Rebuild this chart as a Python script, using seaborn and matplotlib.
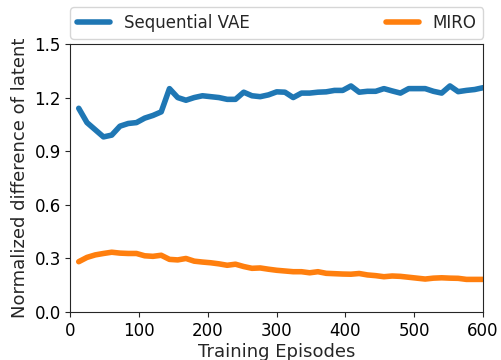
import numpy as np
import pandas as pd
import matplotlib
matplotlib.use("Agg")
import matplotlib.pyplot as plt
import seaborn as sns

episodes = list(range(12, 601, 12))

seq_vae = [1.14, 1.06, 1.02, 0.98, 0.99, 1.04, 1.055, 1.06, 1.085, 1.10,
           1.12, 1.25, 1.20, 1.185, 1.20, 1.21, 1.205, 1.20, 1.19, 1.19,
           1.23, 1.21, 1.205, 1.215, 1.232, 1.23, 1.20, 1.225, 1.225, 1.23,
           1.232, 1.24, 1.24, 1.265, 1.23, 1.235, 1.235, 1.25, 1.237, 1.225,
           1.25, 1.25, 1.25, 1.235, 1.225, 1.265, 1.233, 1.24, 1.245, 1.255]

miro = [0.282, 0.306, 0.32, 0.328, 0.335, 0.33, 0.328, 0.328, 0.315, 0.312,
        0.318, 0.295, 0.292, 0.30, 0.285, 0.28, 0.276, 0.27, 0.262, 0.268,
        0.255, 0.245, 0.247, 0.24, 0.234, 0.23, 0.226, 0.226, 0.22, 0.226,
        0.217, 0.215, 0.213, 0.212, 0.216, 0.208, 0.204, 0.198, 0.202, 0.20,
        0.195, 0.19, 0.185, 0.19, 0.192, 0.19, 0.189, 0.183, 0.183, 0.183]

series_names = ["Sequential VAE", "MIRO"]
colors = ["#1f77b4", "#ff7f0e"]

df = pd.DataFrame({
    "episode": episodes * 2,
    "value": seq_vae + miro,
    "method": [series_names[0]] * len(episodes) + [series_names[1]] * len(episodes),
})

sns.set_style("ticks")

fig = plt.figure(figsize=(5.02, 3.6), dpi=100)
ax = fig.add_axes([0.1404, 0.133, 0.8216, 0.745])

sns.lineplot(data=df, x="episode", y="value", hue="method",
             palette=colors, linewidth=4, ax=ax)

ax.set_xlim(0, 600)
ax.set_ylim(0.0, 1.5)
ax.set_xticks([0, 100, 200, 300, 400, 500, 600])
ax.set_yticks([0.0, 0.3, 0.6, 0.9, 1.2, 1.5])
ax.tick_params(labelsize=12, length=3.5, width=0.8, labelcolor="black")
ax.set_xlabel("Training Episodes", fontsize=13, labelpad=2)
ax.set_ylabel("Normalized difference of latent", fontsize=13)

for s in ax.spines.values():
    s.set_visible(True)
    s.set_linewidth(0.8)

handles, labels = ax.get_legend_handles_labels()
ax.legend(handles, labels, bbox_to_anchor=(0, 1.02, 1, 0.2), loc="lower left",
          mode="expand", ncol=2, fontsize=12, borderaxespad=0, frameon=True)

fig.savefig("out.png", dpi=100)
